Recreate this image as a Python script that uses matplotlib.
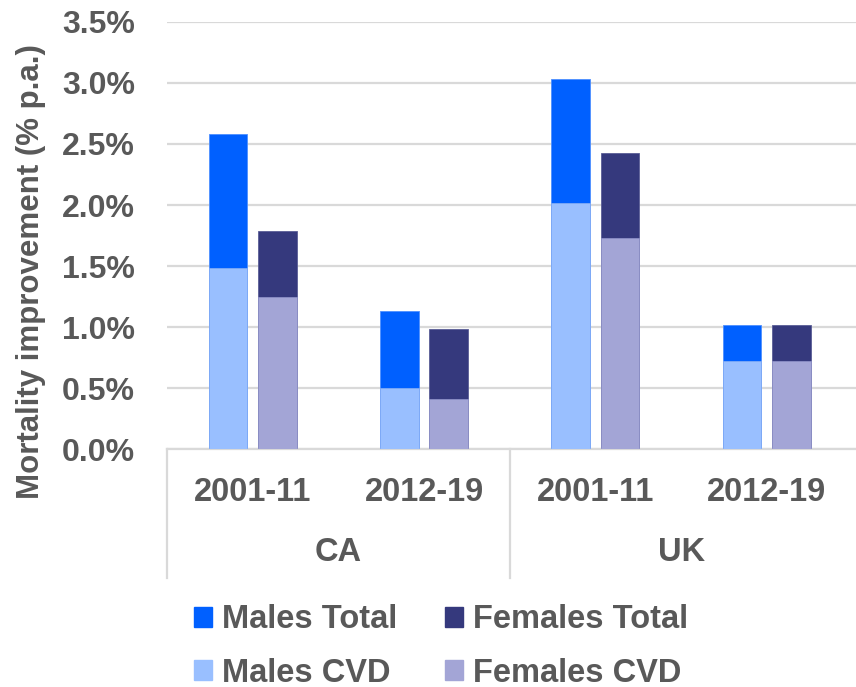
import numpy as np
import matplotlib.pyplot as plt
from matplotlib.transforms import blended_transform_factory
from matplotlib.patches import Patch

# === DATA ===
countries = ["CA", "UK"]
periods = ["2001-11", "2012-19", "2001-11", "2012-19"]
males_total = [2.58, 1.13, 3.03, 1.02]
females_total = [1.79, 0.98, 2.43, 1.02]
males_cvd = [1.48, 0.50, 2.02, 0.72]
females_cvd = [1.25, 0.41, 1.73, 0.72]

# === STYLE ===
TEXT = "#595959"
GRID = "#D9D9D9"
C_MT = "#0060FF"
C_FT = "#35397D"
C_MC = "#99BFFF"
C_FC = "#A3A5D6"

plt.rcParams["font.family"] = ["Liberation Sans", "DejaVu Sans"]
plt.rcParams["font.weight"] = "bold"

fig = plt.figure(figsize=(8.56, 6.87), dpi=100)
ax = fig.add_axes([0.195, 0.3464, 0.805, 0.6216])

x = np.arange(len(periods))
w = 0.225
off = 0.144

# totals drawn first, CVD part overlaid from zero
ax.bar(x - off, males_total, w, color=C_MT, edgecolor="#4D8FFF", linewidth=0.6, zorder=2)
ax.bar(x + off, females_total, w, color=C_FT, edgecolor="#5A5E96", linewidth=0.6, zorder=2)
ax.bar(x - off, males_cvd, w, color=C_MC, edgecolor="#7FAAF5", linewidth=0.6, zorder=3)
ax.bar(x + off, females_cvd, w, color=C_FC, edgecolor="#8C8FC6", linewidth=0.6, zorder=3)

ax.set_xlim(-0.5, 3.52)
ax.set_ylim(0, 3.5)
yt = np.arange(0, 3.51, 0.5)
ax.set_yticks(yt)
ax.set_yticklabels([f"{v:.1f}%" for v in yt], fontsize=23, color=TEXT, fontweight="bold")
ax.tick_params(axis="y", length=0, pad=23)
ax.yaxis.grid(True, color=GRID, linewidth=1.6, zorder=0)
ax.set_axisbelow(True)
for s in ["top", "right", "left"]:
    ax.spines[s].set_visible(False)
ax.spines["bottom"].set_color(GRID)
ax.spines["bottom"].set_linewidth(1.6)

ax.set_xticks(x)
ax.set_xticklabels(periods, fontsize=23.5, color=TEXT, fontweight="bold")
ax.tick_params(axis="x", length=0, pad=20)

ax.set_ylabel("Mortality improvement (% p.a.)", fontsize=22.5, color=TEXT,
              fontweight="bold")
ax.yaxis.set_label_coords(-0.176, 0.415)

# multi-level category axis
tr = blended_transform_factory(ax.transData, ax.transAxes)
for xv in [-0.5, 1.5]:
    ax.plot([xv, xv], [0, -0.302], transform=tr, color=GRID, lw=1.6, clip_on=False)
for i, c in enumerate(countries):
    ax.text(2 * i + 0.5, -0.243, c, transform=tr, ha="center", va="center",
            fontsize=23.5, color=TEXT, fontweight="bold")

handles = [Patch(color=C_MT), Patch(color=C_MC), Patch(color=C_FT), Patch(color=C_FC)]
labels = ["Males Total", "Males CVD", "Females Total", "Females CVD"]
fig.legend(handles, labels, loc="center", bbox_to_anchor=(0.515, 0.059), ncol=2,
           frameon=False, prop={"size": 23.5, "weight": "bold"}, labelcolor=TEXT,
           handlelength=0.57, handleheight=0.57, handletextpad=0.3,
           columnspacing=1.45, labelspacing=0.68)

fig.savefig("out.png", dpi=100)
